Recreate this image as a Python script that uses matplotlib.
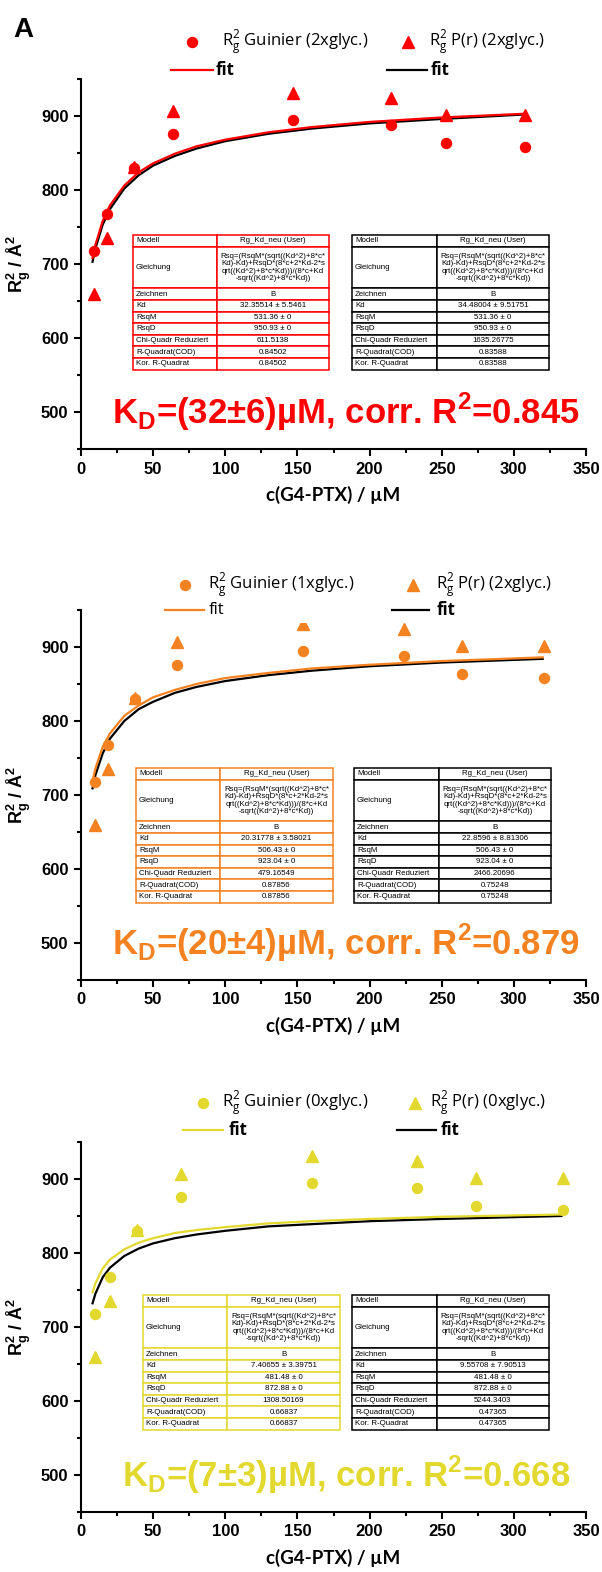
import matplotlib
matplotlib.use('Agg')
import matplotlib.pyplot as plt
from matplotlib.lines import Line2D
from matplotlib.patches import Rectangle
from matplotlib.ticker import MultipleLocator

plt.rcParams['mathtext.fontset'] = 'custom'
plt.rcParams['mathtext.rm'] = 'Open Sans'
plt.rcParams['mathtext.bf'] = 'Liberation Sans:bold'

W, H = 602, 1572

# measured Rg^2 values (same for all three panels)
rg_guinier = [718, 768, 830, 876, 894, 888, 864, 858]
rg_pr = [660, 735, 831, 907, 931, 925, 901, 901]

conc_2x = [9, 18, 36.5, 64, 147, 215, 253, 308]
conc_1x = [9.5, 19, 37.5, 66.5, 154, 224, 264, 321]
conc_0x = [10, 20, 39, 69, 160, 233, 274, 334]

# fit curves
fit_c_2x = [8, 10, 15, 20, 30, 40, 50, 65, 80, 100, 130, 160, 200, 250, 307]
fit_2x_guinier = [708, 726, 758, 779, 806, 824, 836, 849, 859, 868, 878, 885, 892, 898, 903]
fit_2x_pr = [703, 721, 753, 774, 802, 820, 833, 846, 856, 866, 876, 883, 890, 896, 902]
fit_c_1x = [8, 10, 15, 20, 30, 40, 50, 65, 80, 100, 130, 160, 200, 250, 320]
fit_1x_guinier = [719, 736, 765, 783, 807, 821, 832, 842, 850, 858, 865, 871, 876, 881, 886]
fit_1x_pr = [709, 727, 756, 776, 800, 816, 826, 838, 846, 854, 862, 868, 874, 879, 884]
fit_c_0x = [8, 10, 15, 20, 30, 40, 50, 65, 80, 100, 130, 160, 200, 250, 333]
fit_0x_guinier = [747, 759, 779, 791, 805, 814, 820, 827, 831, 835, 840, 843, 846, 849, 852]
fit_0x_pr = [732, 745, 767, 780, 796, 806, 813, 820, 825, 830, 836, 839, 843, 846, 850]

table_rows = ['Modell', 'Gleichung', 'Zeichnen', 'Kd', 'RsqM', 'RsqD',
              'Chi-Quadr Reduziert', 'R-Quadrat(COD)', 'Kor. R-Quadrat']
equation = ('Rsq=(RsqM*(sqrt((Kd^2)+8*c*\nKd)-Kd)+RsqD*(8*c+2*Kd-2*s\n'
            'qrt((Kd^2)+8*c*Kd)))/(8*c+Kd\n-sqrt((Kd^2)+8*c*Kd))')
tab_2x_guinier = ['32.35514 ± 5.5461', '531.36 ± 0', '950.93 ± 0', '611.5138', '0.84502', '0.84502']
tab_2x_pr = ['34.48004 ± 9.51751', '531.36 ± 0', '950.93 ± 0', '1635.26775', '0.83588', '0.83588']
tab_1x_guinier = ['20.31778 ± 3.58021', '506.43 ± 0', '923.04 ± 0', '479.16549', '0.87856', '0.87856']
tab_1x_pr = ['22.8596 ± 8.81306', '506.43 ± 0', '923.04 ± 0', '2466.20696', '0.75248', '0.75248']
tab_0x_guinier = ['7.40655 ± 3.39751', '481.48 ± 0', '872.88 ± 0', '1308.50169', '0.66837', '0.66837']
tab_0x_pr = ['9.55708 ± 7.90513', '481.48 ± 0', '872.88 ± 0', '5244.3403', '0.47365', '0.47365']

RED = '#ff0000'
ORANGE = '#f58220'
YELLOW = '#e3d82e'


def fx(x):
    return x / W


def fy(y):
    return 1 - y / H


def add_table(fig, x0, y0, x1, split, values, color):
    vals = ['Rg_Kd_neu (User)', equation, 'B'] + values
    units = [1, 3.6, 1, 1, 1, 1, 1, 1, 1]
    unit = 11.6
    y = y0
    for name, val, u in zip(table_rows, vals, units):
        h = u * unit
        for a, b in ((x0, split), (split, x1)):
            fig.add_artist(Rectangle((fx(a), fy(y + h)), (b - a) / W, h / H,
                                     transform=fig.transFigure, facecolor='white',
                                     edgecolor=color, lw=1.1, zorder=5))
        fig.text(fx(x0 + 3), fy(y + h / 2), name, ha='left', va='center',
                 fontsize=5.7, family='Liberation Sans', zorder=6)
        fig.text(fx((split + x1) / 2), fy(y + h / 2), val, ha='center', va='center',
                 fontsize=5.7, family='Liberation Sans', linespacing=1.12, zorder=6)
        y += h


def add_legend(fig, rows, color, lab1, lab2, pos, fit_bold):
    y1, y2 = rows
    cx, tx1, trx, tx2, l0, l1, ft1, b0, b1, ft2 = pos
    fig.add_artist(Line2D([fx(cx)], [fy(y1)], marker='o', ms=7.2, color=color, ls='none'))
    fig.text(fx(tx1), fy(y1), lab1, fontsize=12, family='Open Sans', va='center')
    fig.add_artist(Line2D([fx(trx)], [fy(y1)], marker='^', ms=8, color=color, ls='none'))
    fig.text(fx(tx2), fy(y1), lab2, fontsize=12, family='Open Sans', va='center')
    fig.add_artist(Line2D([fx(l0), fx(l1)], [fy(y2), fy(y2)], color=color, lw=1.6))
    fig.text(fx(ft1), fy(y2), 'fit', fontsize=12, family='Open Sans', va='center',
             weight='bold' if fit_bold else 'normal')
    fig.add_artist(Line2D([fx(b0), fx(b1)], [fy(y2), fy(y2)], color='black', lw=1.6))
    fig.text(fx(ft2), fy(y2), 'fit', fontsize=12, family='Open Sans', va='center', weight='bold')


def make_panel(fig, top, conc, fit_c, fit_g, fit_p, color, kd_text):
    bottom = top + 370
    ax = fig.add_axes([fx(81), fy(bottom), (586 - 81) / W, (bottom - top) / H])
    ax.plot(fit_c, fit_p, color='black', lw=1.6, zorder=2)
    ax.plot(fit_c, fit_g, color=color, lw=1.6, zorder=3)
    ax.plot(conc, rg_guinier, 'o', color=color, ms=7.2, zorder=4, clip_on=False)
    ax.plot(conc, rg_pr, '^', color=color, ms=8, zorder=4, clip_on=False)
    ax.set_xlim(0, 350)
    ax.set_ylim(450, 950)
    ax.xaxis.set_major_locator(MultipleLocator(50))
    ax.xaxis.set_minor_locator(MultipleLocator(25))
    ax.yaxis.set_major_locator(MultipleLocator(100))
    ax.yaxis.set_minor_locator(MultipleLocator(50))
    for s in ('top', 'right'):
        ax.spines[s].set_visible(False)
    for s in ('left', 'bottom'):
        ax.spines[s].set_linewidth(1.5)
    ax.tick_params(which='major', direction='out', length=5, width=1.5, pad=4)
    ax.tick_params(which='minor', direction='out', length=3, width=1.5)
    for lab in ax.get_xticklabels() + ax.get_yticklabels():
        lab.set_fontweight('bold')
        lab.set_fontfamily('Liberation Sans')
        lab.set_fontsize(12)
    ax.set_xlabel('c(G4-PTX) / µM', fontsize=13.5, fontweight='bold', family='Lato', labelpad=7)
    ax.set_ylabel(r'$\mathbf{R_g^2}$ / Å$\mathbf{^2}$', fontsize=13, fontweight='bold',
                  family='Liberation Sans', labelpad=6)
    ax.text(0.525, 0.1, kd_text, transform=ax.transAxes,
            ha='center', va='center', color=color, fontsize=25, fontweight='bold',
            family='Liberation Sans')
    return ax


fig = plt.figure(figsize=(W / 100, H / 100), dpi=100)

fig.text(fx(23), fy(30), 'A', fontsize=20, fontweight='bold', family='Liberation Sans',
         ha='center', va='center')

# panel 1 (2x glyc.)
make_panel(fig, 79, conc_2x, fit_c_2x, fit_2x_guinier, fit_2x_pr, RED,
           r'K$_\mathbf{D}$=(32±6)µM, corr. R$^\mathbf{2}$=0.845')
add_legend(fig, (42, 70), RED, r'R$^2_\mathrm{g}$ Guinier (2xglyc.)', r'R$^2_\mathrm{g}$ P(r) (2xglyc.)',
           (192, 222, 408, 429, 171, 213, 216, 387, 427, 431), True)
add_table(fig, 133, 235, 329, 216.7, tab_2x_guinier, RED)
add_table(fig, 352, 235, 549, 436.7, tab_2x_pr, 'black')

# panel 2 (1x glyc.)
make_panel(fig, 610, conc_1x, fit_c_1x, fit_1x_guinier, fit_1x_pr, ORANGE,
           r'K$_\mathbf{D}$=(20±4)µM, corr. R$^\mathbf{2}$=0.879')
# white legend background hides the top of one triangle, as in the original
fig.add_artist(Rectangle((fx(160), fy(623.5)), 400 / W, 58 / H, transform=fig.transFigure,
                         facecolor='white', edgecolor='none', zorder=1))
add_legend(fig, (585, 610), ORANGE, r'R$^2_\mathrm{g}$ Guinier (1xglyc.)', r'R$^2_\mathrm{g}$ P(r) (2xglyc.)',
           (185, 208, 413, 436, 165, 204, 209, 392, 429, 437), False)
add_table(fig, 136, 768, 333, 220, tab_1x_guinier, ORANGE)
add_table(fig, 354, 768, 551, 438.7, tab_1x_pr, 'black')

# panel 3 (0x glyc.)
make_panel(fig, 1142, conc_0x, fit_c_0x, fit_0x_guinier, fit_0x_pr, YELLOW,
           r'K$_\mathbf{D}$=(7±3)µM, corr. R$^\mathbf{2}$=0.668')
add_legend(fig, (1103, 1130), YELLOW, r'R$^2_\mathrm{g}$ Guinier (0xglyc.)', r'R$^2_\mathrm{g}$ P(r) (0xglyc.)',
           (203, 222, 415, 430, 183, 223, 229, 397, 436, 441), True)
add_table(fig, 143, 1295, 340, 227, tab_0x_guinier, YELLOW)
add_table(fig, 352, 1295, 549, 436.7, tab_0x_pr, 'black')

fig.savefig('out.png', dpi=100)
